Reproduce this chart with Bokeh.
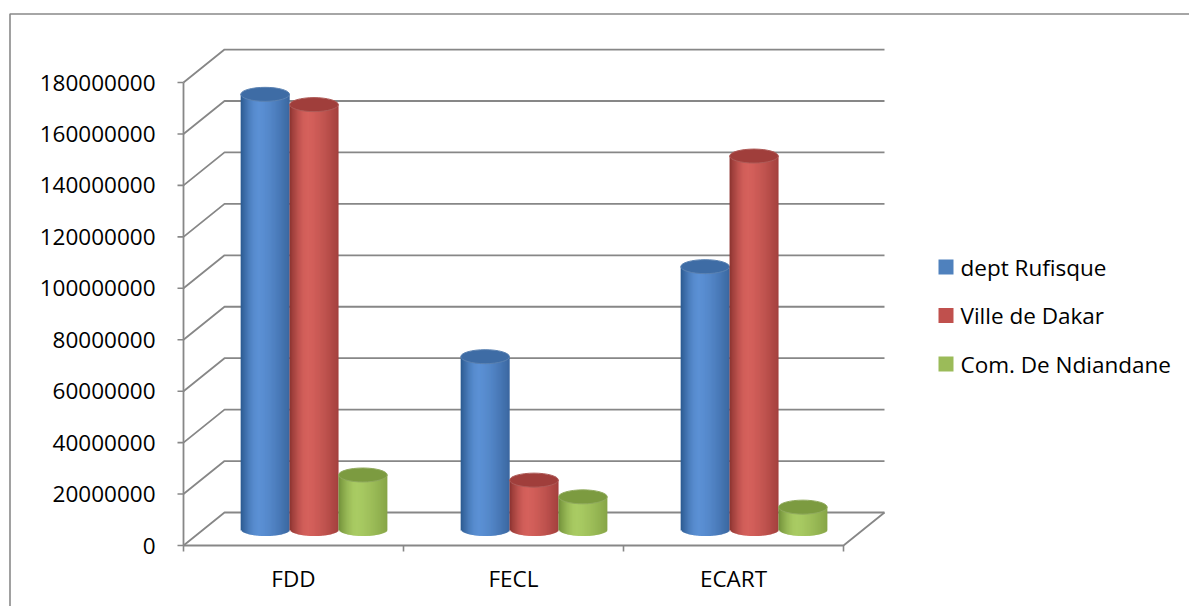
from bokeh.plotting import figure
from bokeh.models import Range1d
from bokeh.core.properties import value
from bokeh.embed import file_html
from bokeh.resources import INLINE
import numpy as np

# ---- data -------------------------------------------------------------
categories = ["FDD", "FECL", "ECART"]
series_names = ["dept Rufisque", "Ville de Dakar", "Com. De Ndiandane"]
rufisque = [169_000_000, 67_000_000, 102_000_000]
dakar = [165_000_000, 19_000_000, 145_000_000]
ndiandane = [21_000_000, 12_500_000, 8_500_000]
y_ticks = [0, 20_000_000, 40_000_000, 60_000_000, 80_000_000,
           100_000_000, 120_000_000, 140_000_000, 160_000_000, 180_000_000]
y_tick_labels = [str(t) for t in y_ticks]

series_values = [rufisque, dakar, ndiandane]

# ---- styling ----------------------------------------------------------
# (left edge, highlight, right edge, top cap)
series_shades = [
    ("#2c5a90", "#5b90d4", "#3a67a0", "#3e6ca5"),
    ("#8c3330", "#d5615c", "#a3403d", "#a03e3b"),
    ("#72903a", "#a9cb63", "#86a546", "#7c9b40"),
]
FONT = value("Open Sans")
FONT_SIZE = "22.5px"
LINE = "#878787"

W, H = 1189, 606
AX_X = 183           # screen x of the front value axis
AX_Y0 = 545          # screen y of value 0 on the front plane
PX_PER_CAT = 220.0
PX_PER_STEP = 51.44  # pixels per 20 000 000
K = 20_000_000 / PX_PER_STEP
DX = 41 / PX_PER_CAT  # depth offset, category units
DY = 33 * K           # depth offset, value units
N_CAT = len(categories)
TOP = y_ticks[-1]


def sx(px):
    return (px - AX_X) / PX_PER_CAT


def sy(py):
    return (AX_Y0 - py) * K


p = figure(width=W, height=H, output_backend="svg", toolbar_location=None,
           x_range=Range1d(sx(0), sx(W)), y_range=Range1d(sy(H), sy(0)),
           x_axis_location=None, y_axis_location=None, min_border=0)
p.outline_line_color = None
p.background_fill_color = "white"
p.border_fill_color = "white"
p.xgrid.visible = False
p.ygrid.visible = False

# outer chart border (left and top edges)
p.line([sx(9.5), sx(9.5), sx(W + 2)], [sy(H + 2), sy(13.5), sy(13.5)],
       line_color="#898989", line_width=1.6)

# ---- 3D walls ---------------------------------------------------------
wall_xs, wall_ys = [], []
for v in y_ticks:
    wall_xs.append([0, DX, N_CAT + DX])
    wall_ys.append([v, v + DY, v + DY])
# floor front edge and right side
wall_xs.append([0, N_CAT, N_CAT + DX])
wall_ys.append([0, 0, DY])
# front value axis
wall_xs.append([0, 0])
wall_ys.append([0, TOP])
p.multi_line(wall_xs, wall_ys, line_color=LINE, line_width=1.8)

# tick marks
tick_len_x = 6 / PX_PER_CAT
tick_len_y = 6 * K
p.segment(x0=[-tick_len_x] * len(y_ticks), y0=y_ticks,
          x1=[0] * len(y_ticks), y1=y_ticks, line_color=LINE, line_width=1.6)
cat_edges = list(range(N_CAT + 1))
p.segment(x0=cat_edges, y0=[0] * len(cat_edges), x1=cat_edges,
          y1=[-tick_len_y] * len(cat_edges), line_color=LINE, line_width=1.6)

# ---- cylinders --------------------------------------------------------
n_series = len(series_values)
bw = 1 / (n_series + 1.5)           # bar width, gap = 150 %
group_off = 0.5 - n_series * bw / 2
base = DY / 2                       # bars stand at mid depth
eh = 14 * K                         # ellipse height of the caps
N_STRIP = 40


def mix(c1, c2, t):
    a = np.array([int(c1[i:i + 2], 16) for i in (1, 3, 5)], dtype=float)
    b = np.array([int(c2[i:i + 2], 16) for i in (1, 3, 5)], dtype=float)
    c = a + (b - a) * t
    return "#%02x%02x%02x" % tuple(int(round(x)) for x in c)


def shade(t, left, hi, right):
    peak = 0.38
    if t < peak:
        return mix(left, hi, np.sin(t / peak * np.pi / 2))
    return mix(hi, right, ((t - peak) / (1 - peak)) ** 1.4)


for ci in range(N_CAT):
    for si, vals in enumerate(series_values):
        val = vals[ci]
        left_c, hi_c, right_c, top_c = series_shades[si]
        x_left = ci + group_off + si * bw + DX / 2
        xc = x_left + bw / 2
        step = bw / N_STRIP
        lefts, rights, bottoms, tops, cols = [], [], [], [], []
        for j in range(N_STRIP):
            t = (j + 0.5) / N_STRIP
            u = 2 * t - 1
            lefts.append(x_left + j * step)
            # each strip slightly overlaps the next one so no seams show
            rights.append(min(x_left + bw, x_left + (j + 1.8) * step))
            bottoms.append(base - eh / 2 * np.sqrt(max(0.0, 1 - u * u)))
            tops.append(base + val)
            cols.append(shade(t, left_c, hi_c, right_c))
        p.quad(left=lefts, right=rights, bottom=bottoms, top=tops,
               fill_color=cols, line_color=None)
        p.ellipse(x=[xc], y=[base + val], width=bw * 0.995, height=eh,
                  fill_color=top_c, line_color=mix(top_c, "#ffffff", 0.15),
                  line_width=1)

# ---- labels -----------------------------------------------------------
p.text(x=[sx(155)] * len(y_ticks), y=y_ticks, text=y_tick_labels,
       text_font=FONT, text_font_size=FONT_SIZE, text_color="#000000",
       text_align="right", text_baseline="middle")

p.text(x=[i + 0.5 for i in range(N_CAT)], y=[sy(578)] * N_CAT,
       text=categories, text_font=FONT, text_font_size=FONT_SIZE,
       text_color="#000000", text_align="center", text_baseline="middle")

# legend
leg_y = [sy(266.5), sy(315), sy(363.5)]
p.rect(x=[sx(945.5)] * n_series, y=leg_y, width=15, height=15,
       width_units="screen", height_units="screen",
       fill_color=["#4f81bd", "#c0504d", "#9bbb59"], line_color=None)
p.text(x=[sx(960)] * n_series, y=leg_y, text=series_names,
       text_font=FONT, text_font_size=FONT_SIZE, text_color="#000000",
       text_align="left", text_baseline="middle")

open("out.html", "w").write(file_html(p, INLINE))
